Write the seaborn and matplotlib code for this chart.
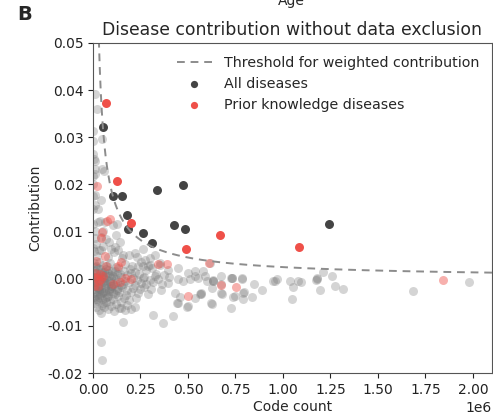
import numpy as np
import pandas as pd
import matplotlib
matplotlib.use("Agg")
import matplotlib.pyplot as plt
import seaborn as sns

# ---------------- data (code count in millions, contribution) ----------------
# diseases above threshold (All diseases)
all_x = [0.053, 0.107, 0.151, 0.335, 0.472, 0.177, 0.186, 0.265, 0.309, 0.428, 0.484, 1.242]
all_y = [0.0322, 0.0176, 0.0176, 0.0188, 0.0198, 0.0135, 0.0105, 0.0097, 0.0076, 0.0114, 0.0106, 0.0116]

# prior-knowledge diseases above threshold
prior_x = [0.068, 0.128, 0.198, 0.489, 0.668, 1.083]
prior_y = [0.0373, 0.0208, 0.0118, 0.0064, 0.0092, 0.0068]

# prior-knowledge diseases below threshold (faded)
prior_low_x = [0.019, 0.072, 0.089, 0.044, 0.046, 0.062, 0.017, 0.070, 0.132, 0.149,
               0.009, 0.035, 0.053, 0.017, 0.044, 0.003, 0.026, 0.105, 0.141, 0.167,
               0.202, 0.342, 0.391, 0.609, 0.500, 0.672, 0.751, 1.844, 0.007, 0.030]
prior_low_y = [0.0197, 0.0122, 0.0126, 0.0087, 0.0099, 0.0049, 0.0037, 0.0028, 0.0026, 0.0035,
               0.0013, 0.0009, 0.0006, 0.0002, -0.0001, 0.0004, -0.0016, -0.0012, -0.0007, 0.0002,
               -0.0001, 0.0032, 0.0032, 0.0033, -0.0037, -0.0013, -0.0018, -0.0003, -0.0015, -0.0005]

# all other diseases (background)
bg_x = [0.011, 0.023, 0.002, 0.002, 0.046, 0.001, 0.005, 0.002, 0.011, 0.046, 0.058, 0.002,
        0.011, 0.041, 0.028, 0.107, 0.125, 0.009, 0.009, 0.001, 0.009, 0.001, 0.026, 0.035,
        0.062, 0.001, 0.009, 0.053, 0.044, 0.070, 0.123, 0.141, 0.219, 0.158, 0.114, 0.298,
        0.325, 0.272, 0.298, 0.237, 0.263, 0.351, 0.395, 0.447, 0.500, 0.535, 0.579, 0.614,
        0.553, 0.588, 0.632, 0.675, 0.728, 0.746, 0.728, 0.675, 0.675, 0.623, 0.570, 0.535,
        0.500, 0.447, 0.430, 0.395, 0.359, 0.325, 0.044, 0.158, 0.316, 0.368, 0.421, 0.202,
        0.149, 0.096, 0.053, 0.041, 0.046, 0.265, 0.353, 0.402, 0.449, 0.475, 0.511, 0.598,
        0.630, 0.632, 0.730, 0.733, 0.783, 0.786, 0.625, 0.563, 0.566, 0.677, 0.738, 0.791,
        0.794, 0.835, 0.849, 0.888, 0.958, 1.037, 1.054, 1.046, 1.081, 0.441, 0.493, 0.625,
        0.458, 0.537, 0.949, 0.967, 1.095, 1.177, 1.180, 1.212, 1.256, 1.274, 1.195, 0.791,
        1.317, 1.683, 1.981, 1.174,
        # dense cluster
        0.005, 0.021, 0.042, 0.081, 0.112, 0.152, 0.188, 0.232,
        0.003, 0.016, 0.031, 0.052, 0.088, 0.121, 0.171, 0.208, 0.251, 0.289,
        0.008, 0.026, 0.047, 0.066, 0.099, 0.131, 0.162, 0.193, 0.222, 0.278, 0.312,
        0.002, 0.018, 0.037, 0.061, 0.079, 0.108, 0.141, 0.178, 0.201, 0.243, 0.268, 0.331, 0.372,
        0.006, 0.023, 0.041, 0.057, 0.076, 0.094, 0.119, 0.149, 0.169, 0.212, 0.231, 0.262, 0.301, 0.342,
        0.003, 0.014, 0.029, 0.051, 0.069, 0.091, 0.111, 0.128, 0.158, 0.187, 0.219, 0.252, 0.281, 0.318, 0.361,
        0.009, 0.024, 0.043, 0.062, 0.084, 0.102, 0.126, 0.151, 0.181, 0.209, 0.246, 0.271, 0.307,
        0.004, 0.019, 0.036, 0.054, 0.071, 0.096, 0.118, 0.139, 0.172, 0.198, 0.238, 0.291,
        0.011, 0.031, 0.049, 0.074, 0.103, 0.132, 0.161, 0.192, 0.229,
        0.006, 0.026, 0.046, 0.068, 0.089, 0.122, 0.148, 0.179,
        0.016, 0.034, 0.058, 0.081, 0.109, 0.137, 0.168, 0.221,
        0.012, 0.028, 0.045, 0.063, 0.082, 0.097, 0.115, 0.134, 0.020, 0.039,
        0.058, 0.077, 0.010, 0.033, 0.072, 0.105, 0.125, 0.145, 0.048, 0.087,
        0.002, 0.015, 0.030, 0.009, 0.055, 0.095, 0.130, 0.085,
        0.007, 0.018, 0.034, 0.052, 0.067, 0.086, 0.004, 0.022, 0.040, 0.060,
        0.078, 0.101, 0.013, 0.031, 0.048, 0.065, 0.093, 0.116]
bg_y = [0.0392, 0.0360, 0.0314, 0.0292, 0.0296, 0.0264, 0.0253, 0.0218, 0.0232, 0.0232, 0.0229, 0.0175,
        0.0157, 0.0166, 0.0121, 0.0113, 0.0116, 0.0250, 0.0222, 0.0200, 0.0177, 0.0148, 0.0148, 0.0123,
        0.0120, 0.0116, 0.0102, 0.0102, 0.0089, 0.0085, 0.0092, 0.0078, 0.0054, 0.0051, 0.0068, 0.0044,
        0.0051, 0.0040, 0.0029, 0.0026, 0.0026, 0.0029, 0.0019, 0.0022, 0.0013, 0.0006, 0.0016, 0.0033,
        0.0002, 0.0006, -0.0005, 0.0006, 0.0002, -0.0037, -0.0062, -0.0030, -0.0012, -0.0051, -0.0033, -0.0040,
        -0.0058, -0.0051, -0.0030, -0.0009, -0.0023, 0.0006, -0.0072, -0.0092, -0.0078, -0.0094, -0.0079, -0.0065,
        -0.0062, -0.0058, -0.0051, -0.0134, -0.0173, 0.0064, 0.0033, 0.0004, -0.0001, -0.0004, -0.0001, -0.0005,
        -0.0004, -0.0002, 0.0002, 0.0001, 0.0002, 0.0000, -0.0019, -0.0033, -0.0031, -0.0033, -0.0039, -0.0030,
        -0.0028, -0.0038, -0.0012, -0.0023, -0.0004, -0.0005, -0.0018, -0.0042, -0.0005, -0.0051, -0.0060, -0.0053,
        -0.0038, 0.0016, -0.0005, -0.0001, -0.0007, 0.0002, 0.0000, 0.0014, 0.0006, -0.0016, -0.0023, -0.0042,
        -0.0022, -0.0026, -0.0006, -0.0003,
        # dense cluster
        0.0058, 0.0049, 0.0061, 0.0046, 0.0057, 0.0043, 0.0051, 0.0047,
        0.0033, 0.0027, 0.0036, 0.0029, 0.0034, 0.0025, 0.0031, 0.0028, 0.0035, 0.0026,
        0.0019, 0.0022, 0.0015, 0.0021, 0.0017, 0.0023, 0.0016, 0.0020, 0.0014, 0.0018, 0.0022,
        0.0011, 0.0006, 0.0013, 0.0008, 0.0012, 0.0005, 0.0010, 0.0007, 0.0013, 0.0009, 0.0004, 0.0010, 0.0007,
        -0.0002, 0.0003, -0.0004, 0.0001, -0.0003, 0.0002, -0.0001, 0.0003, -0.0004, 0.0001, -0.0002, 0.0002, -0.0003, 0.0000,
        -0.0012, -0.0007, -0.0011, -0.0008, -0.0014, -0.0009, -0.0013, -0.0006, -0.0011, -0.0008, -0.0013, -0.0009, -0.0012, -0.0007, -0.0011,
        -0.0021, -0.0017, -0.0024, -0.0019, -0.0022, -0.0016, -0.0023, -0.0018, -0.0024, -0.0019, -0.0022, -0.0017, -0.0021,
        -0.0031, -0.0028, -0.0034, -0.0029, -0.0033, -0.0027, -0.0032, -0.0029, -0.0034, -0.0028, -0.0031, -0.0033,
        -0.0042, -0.0038, -0.0044, -0.0039, -0.0043, -0.0037, -0.0041, -0.0045, -0.0040,
        -0.0052, -0.0048, -0.0055, -0.0050, -0.0047, -0.0053, -0.0049, -0.0056,
        -0.0061, -0.0066, -0.0059, -0.0064, -0.0068, -0.0062, -0.0066, -0.0061,
        0.0004, -0.0019, 0.0008, -0.0026, 0.0005, -0.0015, 0.0016, -0.0020, -0.0035, 0.0020,
        -0.0008, 0.0018, -0.0016, -0.0002, 0.0026, -0.0030, 0.0009, -0.0014, -0.0031, -0.0005,
        0.0066, 0.0073, 0.0061, 0.0086, 0.0069, 0.0064, 0.0060, 0.0077,
        -0.0006, 0.0012, -0.0022, 0.0004, -0.0010, -0.0025, -0.0038, -0.0044, -0.0015, 0.0015,
        -0.0036, 0.0007, 0.0024, -0.0027, 0.0003, -0.0041, -0.0020, -0.0009]

# threshold curve: contribution = coef * (code count in millions) ** (-power)
thr_coef = 0.00246
thr_power = 0.87

SCALE = 1e6
x_ticks = [0.0, 0.25, 0.5, 0.75, 1.0, 1.25, 1.5, 1.75, 2.0]
y_ticks = [-0.02, -0.01, 0.0, 0.01, 0.02, 0.03, 0.04, 0.05]

# ---------------- figure ----------------
sns.set_style("ticks")
plt.rcParams['font.family'] = ['DejaVu Sans']

fig = plt.figure(figsize=(4.93, 4.17), dpi=100)
ax = fig.add_axes([0.1886, 0.1055, 0.8093, 0.7914])

bg = pd.DataFrame({"x": np.array(bg_x) * SCALE, "y": bg_y})
pl = pd.DataFrame({"x": np.array(prior_low_x) * SCALE, "y": prior_low_y})
al = pd.DataFrame({"x": np.array(all_x) * SCALE, "y": all_y})
pr = pd.DataFrame({"x": np.array(prior_x) * SCALE, "y": prior_y})

red = "#ef5049"
MS = 42
sns.scatterplot(data=bg, x="x", y="y", ax=ax, color="#7a7a7a", alpha=0.32, s=MS,
                linewidth=0, legend=False)
sns.scatterplot(data=pl, x="x", y="y", ax=ax, color=red, alpha=0.45, s=MS,
                linewidth=0, legend=False)

tx = np.linspace(0.02, 2.1, 400)
thr = pd.DataFrame({"x": tx * SCALE, "y": thr_coef * tx ** (-thr_power)})
sns.lineplot(data=thr, x="x", y="y", ax=ax, color="#8c8c8c", linestyle=(0, (4, 3)),
             linewidth=1.4, label="Threshold for weighted contribution")

sns.scatterplot(data=al, x="x", y="y", ax=ax, color="#444444", s=MS, linewidth=0,
                label="All diseases")
sns.scatterplot(data=pr, x="x", y="y", ax=ax, color=red, s=MS, linewidth=0,
                label="Prior knowledge diseases")

ax.set_xlim(0, 2.1e6)
ax.set_ylim(-0.02, 0.05)
ax.set_xticks([t * SCALE for t in x_ticks])
ax.set_yticks(y_ticks)
ax.yaxis.set_major_formatter(matplotlib.ticker.FormatStrFormatter('%.2f'))
ax.tick_params(labelsize=10, colors="#222222")
ax.set_xlabel("Code count", fontsize=10, labelpad=2)
ax.set_ylabel("Contribution", fontsize=10)
ax.set_title("Disease contribution without data exclusion", fontsize=12.4)

for sp in ax.spines.values():
    sp.set_visible(True)
    sp.set_color("#555555")

ax.legend(loc="upper right", frameon=False, fontsize=10.3, handlelength=2.5,
          markerscale=0.8, bbox_to_anchor=(1.0, 1.0))

fig.text(0.035, 0.965, "B", fontsize=14, fontweight="bold", va="center")
fig.text(0.59, 0.998, "Age", fontsize=10, ha="center", va="center")

fig.savefig("out.png", dpi=100)
